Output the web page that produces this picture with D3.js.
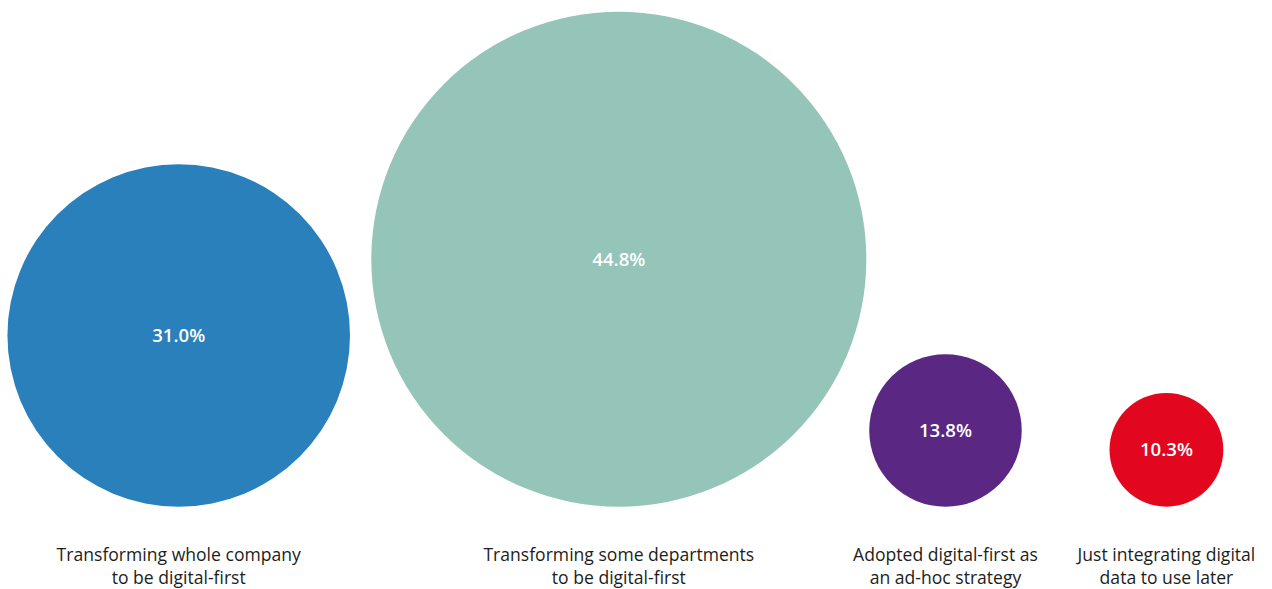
<!DOCTYPE html>
<html>
<head>
<meta charset="utf-8">
<script src="https://cdn.jsdelivr.net/npm/d3@7"></script>
<style>
  html, body { margin: 0; padding: 0; background: #ffffff; }
  svg { display: block; }
</style>
</head>
<body>
<svg id="chart" width="1272" height="589"></svg>
<script>
// Share of respondents by digital-first approach
const categories = [
  ["Transforming whole company", "to be digital-first"],
  ["Transforming some departments", "to be digital-first"],
  ["Adopted digital-first as", "an ad-hoc strategy"],
  ["Just integrating digital", "data to use later"]
];
const values = [31.0, 44.8, 13.8, 10.3];
const colors = ["#2980ba", "#95c4b8", "#5a2782", "#e2061f"];

const width = 1272, height = 589;
const baseline = 506.7;          // bottom edge shared by all circles
// horizontal slot centres, as fractions of the page width
const slots = [0.1405, 0.4865, 0.7433, 0.917];

const svg = d3.select("#chart");

// Radius grows linearly with the percentage
const r = d3.scaleLinear().domain([0, 100]).range([0, 552.5]);
const x = d3.scaleLinear().domain([0, 1]).range([0, width]);

const data = values.map((v, i) => ({
  value: v,
  label: categories[i],
  color: colors[i],
  cx: x(slots[i]),
  r: r(v)
}));

const g = svg.selectAll("g.bubble")
  .data(data)
  .join("g")
  .attr("class", "bubble");

g.append("circle")
  .attr("cx", d => d.cx)
  .attr("cy", d => baseline - d.r)
  .attr("r", d => d.r)
  .attr("fill", d => d.color);

g.append("text")
  .attr("x", d => d.cx)
  .attr("y", d => baseline - d.r)
  .attr("dy", "0.36em")
  .attr("text-anchor", "middle")
  .attr("fill", "#ffffff")
  .attr("font-family", "'Open Sans', sans-serif")
  .attr("font-weight", 600)
  .attr("font-size", 18.6)
  .text(d => d3.format(".1f")(d.value) + "%");

// Category captions, set slightly condensed, one text per line
g.each(function(d) {
  d3.select(this).selectAll("text.caption")
    .data(d.label)
    .join("text")
    .attr("class", "caption")
    .attr("transform", (t, i) => `translate(${d.cx},${561 + i * 22.5}) scale(0.925,1)`)
    .attr("text-anchor", "middle")
    .attr("fill", "#1d1d1b")
    .attr("font-family", "'Open Sans', sans-serif")
    .attr("font-size", 19)
    .text(t => t);
});
</script>
</body>
</html>
